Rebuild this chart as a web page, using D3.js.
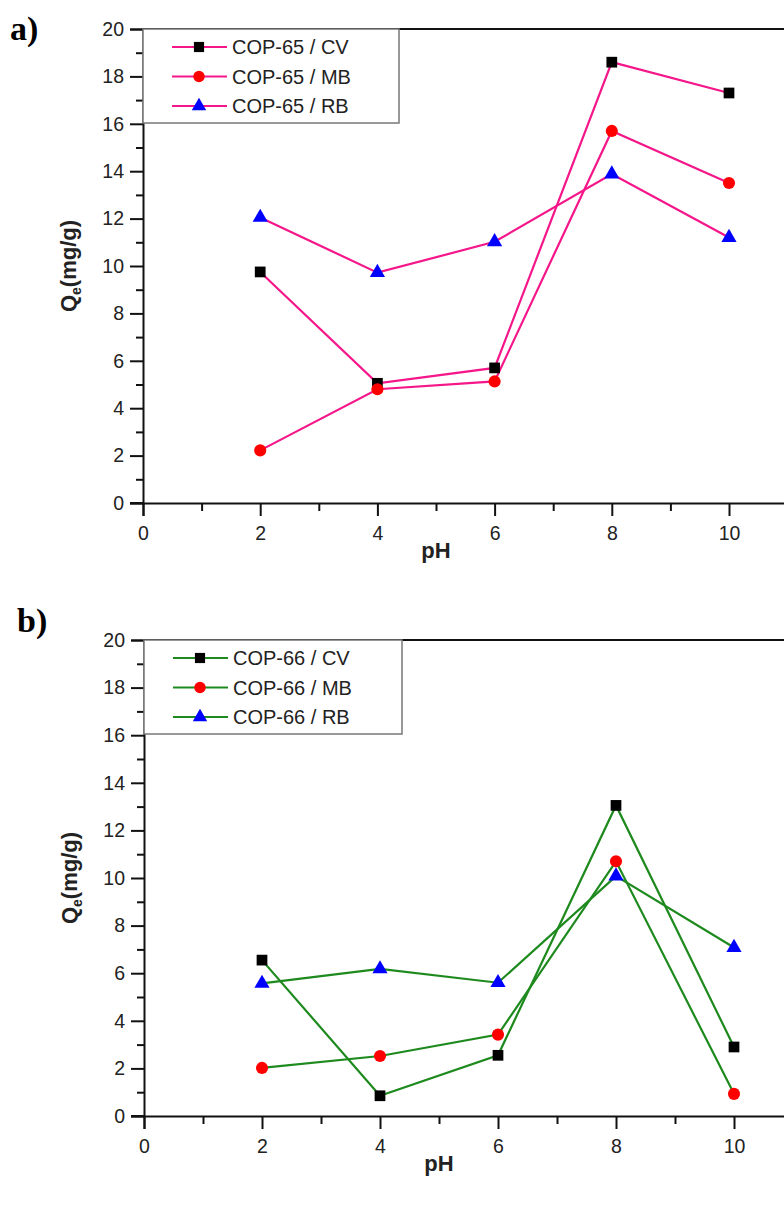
<!DOCTYPE html>
<html><head><meta charset="utf-8">
<script src="https://cdn.jsdelivr.net/npm/d3@7"></script>
<style>body{margin:0;background:#fff}svg{display:block}</style>
</head><body>
<svg id="c" width="784" height="1205"></svg>
<script>
const pH = [2, 4, 6, 8, 10];
const xTicks = [0, 2, 4, 6, 8, 10];
const yTicks = [0, 2, 4, 6, 8, 10, 12, 14, 16, 18, 20];
const seriesNames = ["CV", "MB", "RB"];
const cop65_CV = [9.75, 5.05, 5.7, 18.6, 17.3];
const cop65_MB = [2.22, 4.8, 5.13, 15.7, 13.5];
const cop65_RB = [12.05, 9.72, 11.02, 13.88, 11.2];
const cop66_CV = [6.55, 0.85, 2.55, 13.05, 2.9];
const cop66_MB = [2.02, 2.52, 3.42, 10.7, 0.93];
const cop66_RB = [5.57, 6.18, 5.6, 10.08, 7.08];

const svg = d3.select("#c");
const font = "'Liberation Sans', Arial, sans-serif";

const markerColor = {CV: "#000", MB: "#ff0000", RB: "#0000ff"};
const markerShape = {CV: d3.symbolSquare, MB: d3.symbolCircle, RB: d3.symbolTriangle};
const markerSize = {CV: 115, MB: 115, RB: 100};

function panel(opts) {
  const g = svg.append("g");
  const x = d3.scaleLinear().domain([0, 11]).range([opts.left, opts.left + 11 * opts.unitX]);
  const y = d3.scaleLinear().domain([0, 20]).range([opts.bottom, opts.top]);

  // frame top line
  g.append("line").attr("x1", opts.left).attr("x2", 784).attr("y1", opts.top).attr("y2", opts.top)
    .attr("stroke", "#111").attr("stroke-width", 2);

  // y axis
  const yMinor = d3.range(1, 20, 2);
  const yAx = g.append("g").attr("transform", `translate(${opts.left},0)`);
  yAx.call(d3.axisLeft(y).tickValues(yTicks).tickFormat(d3.format("d")).tickSize(13).tickPadding(6));
  const yMin = g.append("g").attr("transform", `translate(${opts.left},0)`);
  yMin.call(d3.axisLeft(y).tickValues(yMinor).tickFormat("").tickSize(7));
  yMin.select(".domain").remove();

  // x axis
  const xAx = g.append("g").attr("transform", `translate(0,${opts.bottom})`);
  xAx.call(d3.axisBottom(x).tickValues(xTicks).tickFormat(d3.format("d")).tickSize(13).tickPadding(10));
  const xMin = g.append("g").attr("transform", `translate(0,${opts.bottom})`);
  xMin.call(d3.axisBottom(x).tickValues(d3.range(1, 11, 2)).tickFormat("").tickSize(8));
  xMin.select(".domain").remove();

  g.selectAll(".domain").attr("stroke", "#111").attr("stroke-width", 2);
  g.selectAll(".tick line").attr("stroke", "#111").attr("stroke-width", 2);
  g.selectAll(".tick text").attr("font-family", font).attr("font-size", 19.5).attr("fill", "#222");
  // extend x axis line to the left of y axis
  g.append("line").attr("x1", opts.left - 13).attr("x2", opts.left).attr("y1", opts.bottom).attr("y2", opts.bottom)
    .attr("stroke", "#111").attr("stroke-width", 2);

  // axis titles
  g.append("text").attr("x", x(5)).attr("y", opts.bottom + 55).attr("text-anchor", "middle")
    .attr("font-family", font).attr("font-weight", "bold").attr("font-size", 22).attr("fill", "#222").text("pH");
  const yt = g.append("text").attr("transform", `translate(${opts.left - 67},${(opts.top + opts.bottom) / 2}) rotate(-90)`)
    .attr("text-anchor", "middle").attr("font-family", font).attr("font-weight", "bold").attr("font-size", 22).attr("fill", "#222");
  yt.append("tspan").text("Q");
  yt.append("tspan").attr("font-size", 14).attr("dy", 5).text("e");
  yt.append("tspan").attr("dy", -5).text("(mg/g)");

  // panel label
  g.append("text").attr("x", opts.labelX).attr("y", opts.labelY).attr("font-family", "'Liberation Serif', 'Times New Roman', serif")
    .attr("font-weight", "bold").attr("font-size", 34).attr("fill", "#000").text(opts.label);

  // series
  const line = d3.line().x((d, i) => x(pH[i])).y(d => y(d));
  opts.series.forEach((vals) => {
    g.append("path").attr("d", line(vals)).attr("fill", "none").attr("stroke", opts.color).attr("stroke-width", 2.2);
  });
  opts.series.forEach((vals, si) => {
    const name = seriesNames[si];
    g.selectAll(null).data(vals).enter().append("path")
      .attr("transform", (d, i) => `translate(${x(pH[i])},${y(d)})`)
      .attr("d", d3.symbol().type(markerShape[name]).size(markerSize[name]))
      .attr("fill", markerColor[name]);
  });

  // legend
  const lg = g.append("g");
  lg.append("rect").attr("x", opts.left).attr("y", opts.top).attr("width", opts.legendW).attr("height", 94)
    .attr("fill", "#fff").attr("stroke", "#777").attr("stroke-width", 1.5);
  seriesNames.forEach((name, i) => {
    const ly = opts.top + 18 + i * 29.5;
    lg.append("line").attr("x1", opts.left + 29).attr("x2", opts.left + 84).attr("y1", ly).attr("y2", ly)
      .attr("stroke", opts.color).attr("stroke-width", 2.2);
    lg.append("path").attr("transform", `translate(${opts.left + 56},${ly})`)
      .attr("d", d3.symbol().type(markerShape[name]).size(markerSize[name] * 0.9)).attr("fill", markerColor[name]);
    lg.append("text").attr("x", opts.left + 89).attr("y", ly + 7).attr("font-family", font).attr("font-size", 20)
      .attr("fill", "#222").text(`${opts.name} / ${name}`);
  });
}

panel({top: 29, bottom: 503, left: 143, unitX: 58.6, color: "#f5168a", name: "COP-65",
  series: [cop65_CV, cop65_MB, cop65_RB], label: "a)", labelX: 10, labelY: 40, legendW: 256});
panel({top: 640, bottom: 1116, left: 144, unitX: 59, color: "#1e8a1e", name: "COP-66",
  series: [cop66_CV, cop66_MB, cop66_RB], label: "b)", labelX: 17, labelY: 632, legendW: 258});
</script>
</body></html>
